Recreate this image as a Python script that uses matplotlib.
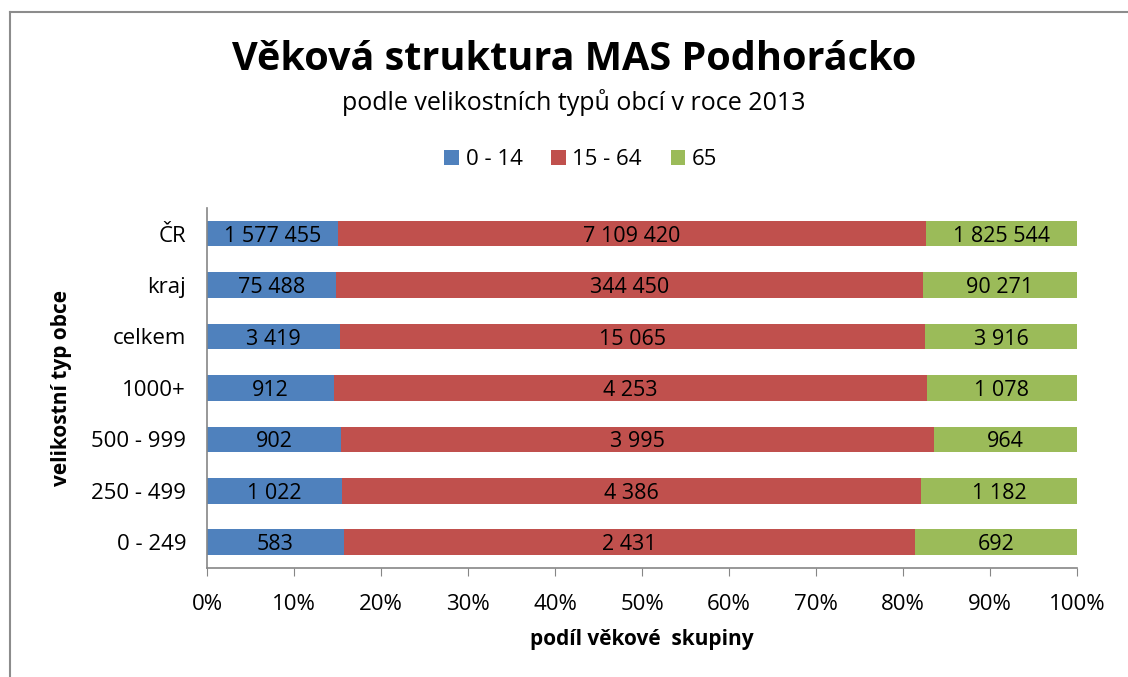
import numpy as np
import matplotlib
matplotlib.use("Agg")
import matplotlib.pyplot as plt
from matplotlib.lines import Line2D

plt.rcParams['font.family'] = ['Open Sans', 'DejaVu Sans']

# data (bottom to top)
categories = ["0 - 249", "250 - 499", "500 - 999", "1000+", "celkem", "kraj", "ČR"]
age_0_14 = [583, 1022, 902, 912, 3419, 75488, 1577455]
age_15_64 = [2431, 4386, 3995, 4253, 15065, 344450, 7109420]
age_65 = [692, 1182, 964, 1078, 3916, 90271, 1825544]
series_names = ["0 - 14", "15 - 64", "65"]
colors = ["#4F81BD", "#C0504D", "#9BBB59"]
x_ticks = [0, 10, 20, 30, 40, 50, 60, 70, 80, 90, 100]

values = np.array([age_0_14, age_15_64, age_65], dtype=float)
totals = values.sum(axis=0)
shares = values / totals * 100

fig = plt.figure(figsize=(11.28, 6.77), dpi=100)
ax = fig.add_axes([0.1835, 0.161, 0.7713, 0.532])

y = np.arange(len(categories))
left = np.zeros(len(categories))
for i in range(3):
    bars = ax.barh(y, shares[i], left=left, height=0.5, color=colors[i],
                   label=series_names[i])
    for j, b in enumerate(bars):
        txt = f"{int(values[i][j]):,}".replace(",", " ")
        ax.text(left[j] + shares[i][j] / 2, y[j] - 0.05, txt,
                ha="center", va="center", fontsize=15.5, color="black")
    left += shares[i]

ax.set_xlim(0, 100)
ax.set_ylim(-0.5, len(categories) - 0.5)
ax.set_xticks(x_ticks)
ax.set_xticklabels([f"{t}%" for t in x_ticks], fontsize=16)
ax.set_yticks(y)
ax.set_yticklabels(categories, fontsize=16)
ax.tick_params(axis="y", length=0, pad=15)
ax.tick_params(axis="x", length=6, color="#868686", pad=13)

for s in ["top", "right"]:
    ax.spines[s].set_visible(False)
for s in ["left", "bottom"]:
    ax.spines[s].set_color("#868686")
    ax.spines[s].set_linewidth(1.2)

ax.set_xlabel("podíl věkové  skupiny", fontsize=15, fontweight="bold", labelpad=10)
ax.set_ylabel("velikostní typ obce", fontsize=15, fontweight="bold", labelpad=14)

fig.text(0.509, 0.912, "Věková struktura MAS Podhorácko", ha="center", va="center",
         fontsize=28.5, fontweight="bold")
fig.text(0.509, 0.849, "podle velikostních typů obcí v roce 2013", ha="center",
         va="center", fontsize=18)

leg = fig.legend(loc="center", bbox_to_anchor=(0.515, 0.764), ncol=3, frameon=False,
                 fontsize=16, handlelength=0.65, handleheight=0.65,
                 handletextpad=0.3, columnspacing=1.3)

# chart border (left and top edges)
fig.add_artist(Line2D([10 / 1128, 10 / 1128], [0, 1 - 12 / 677],
                      transform=fig.transFigure, color="#8C8C8C", lw=1.5))
fig.add_artist(Line2D([10 / 1128, 1], [1 - 12 / 677, 1 - 12 / 677],
                      transform=fig.transFigure, color="#8C8C8C", lw=1.5))

fig.savefig("out.png", dpi=100)
